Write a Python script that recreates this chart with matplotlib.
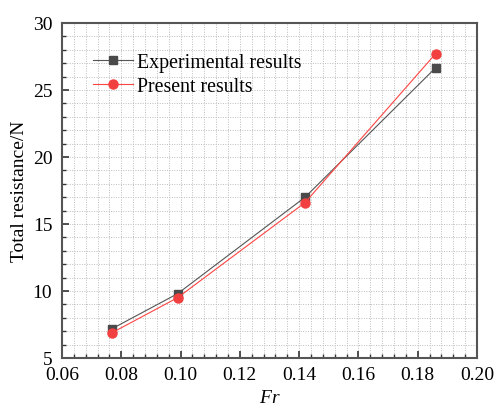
import matplotlib
matplotlib.use("Agg")
import matplotlib.pyplot as plt
from matplotlib.ticker import MultipleLocator

fr = [0.077, 0.099, 0.142, 0.186]
experimental = [7.2, 9.8, 17.0, 26.65]
present = [6.9, 9.5, 16.6, 27.7]

plt.rcParams['font.family'] = ['Liberation Serif', 'DejaVu Serif']
plt.rcParams['mathtext.fontset'] = 'custom'
plt.rcParams['mathtext.it'] = 'Liberation Serif:italic'

fig = plt.figure(figsize=(4.97, 4.06), dpi=100)
ax = fig.add_axes([62/497, 1-359/406, (477-62)/497, (359-24)/406])

ax.plot(fr, experimental, color='#555555', lw=0.8, marker='s', ms=5.5,
        mfc='#4a4a4a', mec='#4a4a4a', label='Experimental results', zorder=3)
ax.plot(fr, present, color='#ff4444', lw=0.8, marker='o', ms=6.5,
        mfc='#f24040', mec='#f24040', label='Present results', zorder=4)

ax.set_xlim(0.06, 0.20)
ax.set_ylim(5, 30)
ax.xaxis.set_major_locator(MultipleLocator(0.02))
ax.xaxis.set_minor_locator(MultipleLocator(0.004))
ax.yaxis.set_major_locator(MultipleLocator(5))
ax.yaxis.set_minor_locator(MultipleLocator(1))
ax.set_xticks(ax.get_xticks())
ax.set_xticklabels([f"{v:.2f}" for v in ax.get_xticks()])
ax.set_xlim(0.06, 0.20)

ax.grid(which='both', color='#bdbdbd', linestyle=(0, (1, 1.5)), lw=0.7)
ax.set_axisbelow(True)

for s in ax.spines.values():
    s.set_color('#555555')
    s.set_linewidth(1.5)

ax.tick_params(which='both', direction='in', top=False, right=False,
               color='#333333', labelsize=14, labelcolor='black')
ax.tick_params(axis='x', which='major', pad=6)
ax.tick_params(axis='y', which='major', pad=7)
ax.tick_params(which='major', length=5, width=1.2)
ax.tick_params(which='minor', length=3, width=1.0)

ax.set_xlabel('$Fr$', fontsize=14, labelpad=4)
ax.set_ylabel('Total resistance/N', fontsize=14, labelpad=3)

ax.legend(loc='upper left', bbox_to_anchor=(0.075, 0.91), frameon=False,
          fontsize=14.3, handlelength=2.0, handletextpad=0.2,
          labelspacing=0.25, borderaxespad=0, borderpad=0)

fig.savefig('out.png', dpi=100)
